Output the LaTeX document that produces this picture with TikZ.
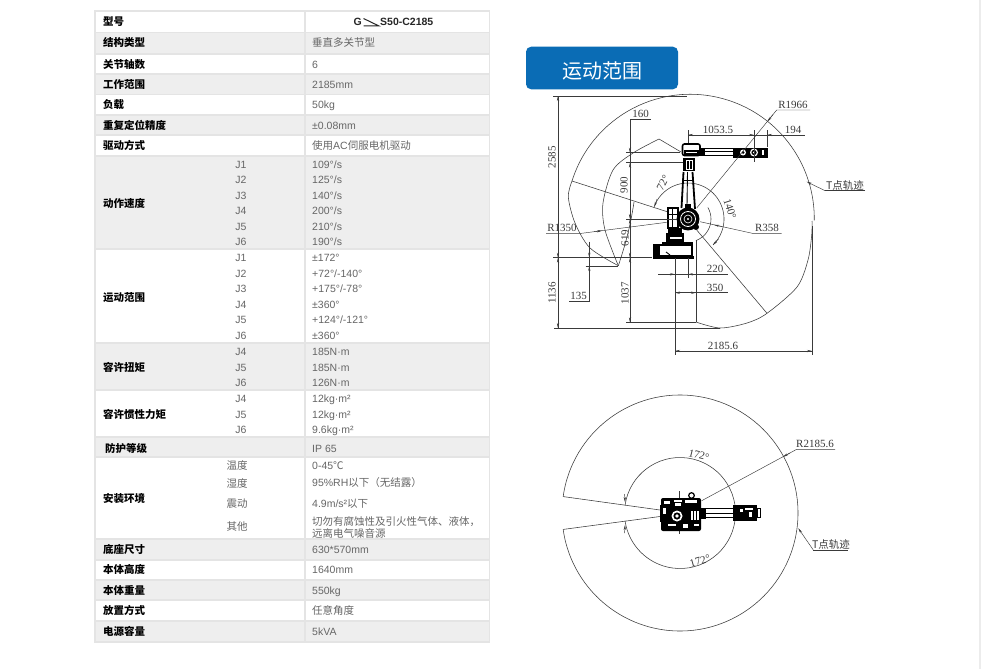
\documentclass[tikz,border=0pt]{standalone}
\usepackage{fontspec}
\setmainfont{Liberation Sans}
\newfontfamily\cjk{Noto Sans CJK SC}
\newfontfamily\serifdim{Liberation Serif}
\usetikzlibrary{arrows.meta}
\definecolor{rowgrey}{HTML}{EEEEEE}
\definecolor{rulegrey}{HTML}{E4E4E4}
\definecolor{cellink}{HTML}{666666}
\definecolor{capblue}{HTML}{0A6CB5}
\definecolor{drawink}{HTML}{3A3A3A}
\newcommand{\cn}[1]{{\cjk #1}}
\tikzset{
    tbhead/.style={anchor=west, inner sep=0pt, text height=8pt, text depth=0pt, font=\cjk\bfseries\fontsize{10.5}{12}\selectfont, text=black},
    tbcell/.style={anchor=west, inner sep=0pt, text height=8pt, text depth=0pt, font=\fontsize{10.5}{12}\selectfont, text=cellink},
    tbjoint/.style={inner sep=0pt, text height=8pt, text depth=0pt, font=\fontsize{10.5}{12}\selectfont, text=cellink},
    dimtext/.style={inner sep=0pt, font=\serifdim\fontsize{11}{12}\selectfont, text=drawink},
    dimline/.style={draw=drawink, line width=0.45pt},
    dimarrow/.style={draw=drawink, line width=0.45pt, -{Stealth[length=5pt,width=2.2pt]}},
    trace/.style={draw=drawink, line width=0.55pt},
    robot/.style={draw=black, line width=0.9pt}
}
\begin{document}
\begin{tikzpicture}[x=1pt,y=-1pt]
        \useasboundingbox (0,0) rectangle (981,669);
        \fill[white] (0,0) rectangle (981,669);
        \fill[rulegrey!70] (979,0) rectangle (981,669);
        % table
        \fill[rulegrey] (94,10) rectangle (490,642.5);
        \foreach \ya/\yb/\rowc in {12/32/white,33.5/53/rowgrey,55/73/white,75/93.5/rowgrey,95/114/white,116/134/rowgrey,136/155/white,156.5/248/rowgrey,250/342/white,344/389/rowgrey,391/436/white,438/456/rowgrey,458/538/white,540/559/rowgrey,560.5/579/white,581/599/rowgrey,601/620/white,622/641/rowgrey}{
                \fill[\rowc] (95.5,\ya) rectangle (304,\yb);
                \fill[\rowc] (306,\ya) rectangle (488.5,\yb);
        }
        \foreach \yy/\txt [count=\i] in {22/型号,43/结构类型,64/关节轴数,84.5/工作范围,104.5/负载,125/重复定位精度,145.5/驱动方式,203/动作速度,297/运动范围,367/容许扭矩,414/容许惯性力矩,498/安装环境,549.5/底座尺寸,569.5/本体高度,590.5/本体重量,610.5/放置方式,631.5/电源容量}{
                \node[tbhead] (head\i) at (103,\yy) {\txt};
        }
        \node[tbhead] (headip) at (105,448) {防护等级};
        \node[anchor=east, inner sep=0pt, font=\bfseries\fontsize{10.5}{12}\selectfont, text=black!85] (modelg) at (362,22) {G};
        \node[anchor=west, inner sep=0pt, font=\bfseries\fontsize{10.5}{12}\selectfont, text=black!85] (modelno) at (380,22) {S50-C2185};
        \draw[line width=1pt, black!85] (363.5,18.5) -- (379,26) -- (363.5,26);
        \foreach \yy/\txt [count=\i] in {43/\cn{垂直多关节型},64/6,84.5/2185mm,104.5/50kg,125.5/±0.08mm,145.5/\cn{使用}AC\cn{伺服电机驱动},164/{109°/s},179/{125°/s},195/{140°/s},210/{200°/s},226/{210°/s},241.5/{190°/s},257.7/±172°,273.5/{+72°/-140°},288.7/{+175°/-78°},304/±360°,319.7/{+124°/-121°},335.3/±360°,351.7/185N·m,367/185N·m,382.7/126N·m,398.7/12kg·m²,414.7/12kg·m²,429.5/9.6kg·m²,448/IP 65,465.7/0-45\cn{℃},482.7/95\%RH\cn{以下（无结露）},503.3/{4.9m/s²\cn{以下}},521/\cn{切勿有腐蚀性及引火性气体、液体，},533/\cn{远离电气噪音源},549.5/630*570mm,569.5/1640mm,590.5/550kg,610.5/\cn{任意角度},631.5/5kVA}{
                \node[tbcell] (val\i) at (312,\yy) {\txt};
        }
        \foreach \yy/\txt [count=\i] in {164/J1,179/J2,195/J3,210/J4,226/J5,241.5/J6,257.7/J1,273.5/J2,288.7/J3,304/J4,319.7/J5,335.3/J6,351.7/J4,367/J5,382.7/J6,398.7/J4,414.7/J5,429.5/J6}{
                \node[tbjoint] (joint\i) at (241,\yy) {\txt};
        }
        \foreach \yy/\txt [count=\i] in {465.7/温度,483/湿度,503.5/震动,526/其他}{
                \node[tbjoint, font=\cjk\fontsize{10.5}{12}\selectfont] (env\i) at (237,\yy) {\txt};
        }
        % caption button
        \node[fill=capblue, rounded corners=5pt, minimum width=152pt, minimum height=42.5pt, inner sep=0pt, text=white, font=\cjk\fontsize{20}{22}\selectfont] (caption) at (602,68) {\raisebox{-10pt}[0pt][0pt]{运动范围}};
        % side view, working range
        \coordinate (jtwo) at (688,219);
        \draw[trace] (572,181) arc[start angle=197.5, end angle=361, radius=124];
        \draw[trace] plot[smooth] coordinates {(812,221) (811.7,235) (808,260) (797,287) (767,313.3) (747,323) (720,328) (696,322)};
        \draw[trace] plot[smooth] coordinates {(572,181) (568.3,197) (575,223) (590,248) (618.3,265.7)};
        \draw[trace] plot[smooth] coordinates {(618.3,265.7) (605,230) (603,203) (613,170) (633,153) (659,139)};
        \draw[trace] (659,139) -- (681,152);
        \draw[trace] (618.3,265.7) .. controls (627,240) and (631,222) .. (634,202);
        \draw[trace] (572,181) -- (668,212);
        \draw[trace] (696.7,230) -- (767,313.3);
        \draw[trace] (696,240) -- (696,322);
        \draw[trace] (jtwo) ++(-30:23) arc[start angle=-30, end angle=70, radius=23];
        \draw[trace] (jtwo) ++(200:36) arc[start angle=200, end angle=406, radius=36];
        \draw[dimarrow] (657,199) -- (654.4,206.7);
        \draw[dimarrow] (718.5,239) -- (713,245);
        % side view, robot
        \begin{scope}[robot]
                \fill (652.5,255.5) rectangle (693.5,258.5);
                \draw[line width=1.2pt] (654,245) rectangle (692,255.5);
                \fill (653,244) rectangle (660,256);
                \draw (666,252) -- (670,255);
                \fill (662,241.5) rectangle (693,244.5);
                \fill (666,233) rectangle (684,241.5);
                \draw[fill=white] (669,236) rectangle (682,239);
                \fill (668,228) rectangle (682,233);
                \draw[fill=white, line width=1.1pt] (668,208) rectangle (678,228);
                \draw (672,208) -- (672,228);
                \draw (668,214) -- (678,214);
                \draw[line width=1.8pt] (681.5,208) -- (683.5,172);
                \draw[line width=1.8pt] (695,209) -- (692.5,172);
                \draw (687.5,172) -- (687,205);
                \draw (684,180) -- (692,180);
                \fill (685,204) rectangle (691,209);
                \draw[fill=black, line width=1.3pt] (jtwo) circle (10.8);
                \draw[white, line width=0.8pt] (jtwo) circle (7.5);
                \draw[white, line width=0.6pt] (jtwo) circle (4);
                \fill[white] (jtwo) circle (1.2);
                \fill (696,227) circle (3);
                \fill (683,158) rectangle (695,171);
                \draw[white, line width=0.7pt] (686,160) rectangle (692,169);
                \draw[white, line width=0.6pt] (689,160) -- (689,169);
                \draw[line width=1.6pt, fill=white, rounded corners=2pt] (682.5,144) rectangle (700,155.5);
                \fill (684,150) rectangle (700,155.5);
                \draw[white, line width=0.5pt] (686,152.5) -- (697,152.5);
                \draw (700,148.5) -- (733,148.5);
                \draw (700,155) -- (733,155);
                \draw[line width=0.6pt] (704,151.5) -- (733,151.5);
                \fill (700,147.5) rectangle (705,156);
                \fill (733,147.5) rectangle (768,157.5);
                \fill[white] (743,152.5) circle (3);
                \fill (743,152.5) circle (1.5);
                \fill[white] (754,152.5) circle (4);
                \fill (754,152.5) circle (2.6);
                \fill[white] (754,152.5) circle (1.1);
                \fill[white] (762,150) rectangle (764,155);
        \end{scope}
        % side view, dimensions
        \draw[dimline] (553,96) -- (687,96);
        \draw[dimline] (553,257.7) -- (652,257.7);
        \draw[dimline] (554,328) -- (720,328);
        \draw[dimline] (558,96) -- (558,328);
        \draw[dimarrow] (558,104) -- (558,96);
        \draw[dimarrow] (558,249) -- (558,257.7);
        \draw[dimarrow] (558,266) -- (558,257.7);
        \draw[dimarrow] (558,320) -- (558,328);
        \node[dimtext, rotate=90] (dimtotal) at (552,157) {2585};
        \node[dimtext, rotate=90] (dimlow) at (552,293) {1136};
        \draw[dimline] (630,119) -- (650.7,119);
        \draw[dimline] (630,119) -- (630,322.3);
        \node[dimtext, anchor=south, inner sep=1pt] (dimshort) at (640.5,119) {160};
        \draw[dimline] (626,152.7) -- (680,152.7);
        \draw[dimline] (626,162.7) -- (683,162.7);
        \draw[dimline] (626,219) -- (677,219);
        \draw[dimline] (626,322.3) -- (696,322.3);
        \draw[dimarrow] (630,144) -- (630,152.7);
        \draw[dimarrow] (630,171) -- (630,162.7);
        \draw[dimarrow] (630,211) -- (630,219);
        \draw[dimarrow] (630,227) -- (630,219);
        \draw[dimarrow] (630,250) -- (630,257.7);
        \draw[dimarrow] (630,266) -- (630,257.7);
        \draw[dimarrow] (630,314) -- (630,322.3);
        \node[dimtext, rotate=90] (dimarm) at (624,185) {900};
        \node[dimtext, rotate=90] (dimbase) at (625,238) {619};
        \node[dimtext, rotate=90] (dimfloor) at (625,293) {1037};
        \coordinate (rsmall) at (581.7,233.3);
        \draw[dimline] (546,233.3) -- (rsmall) -- (666.7,222.3);
        \draw[dimarrow] (594,231.7) -- (602,230.7);
        \node[dimtext, anchor=south, inner sep=1pt] (rinner) at (562,233.3) {R1350};
        \coordinate (rmid) at (752.3,233.3);
        \draw[dimline] (781.7,233.3) -- (rmid) -- (700,221.7);
        \draw[dimarrow] (722,226.6) -- (714,224.8);
        \node[dimtext, anchor=south, inner sep=1pt] (rjoint) at (767,233.3) {R358};
        \coordinate (router) at (776.7,110);
        \draw[dimline] (810,110) -- (router) -- (696.7,208);
        \draw[dimarrow] (773,114.5) -- (767.5,121.5);
        \node[dimtext, anchor=south, inner sep=1pt] (rtop) at (793,110) {R1966};
        \draw[dimline] (688,130) -- (688,143);
        \draw[dimline] (754,130) -- (754,162);
        \draw[dimline] (767,130) -- (767,147);
        \draw[dimline] (688,135) -- (805,135);
        \draw[dimarrow] (696,135) -- (688,135);
        \draw[dimarrow] (746,135) -- (754,135);
        \draw[dimarrow] (775,135) -- (767,135);
        \node[dimtext, anchor=south, inner sep=1pt] (dimreach) at (718,135) {1053.5};
        \node[dimtext, anchor=south, inner sep=1pt] (dimwrist) at (793,135) {194};
        \draw[dimline] (589.3,241.7) -- (589.3,301) -- (569.3,301);
        \draw[dimline] (585.7,266) -- (618.3,266);
        \draw[dimarrow] (589.3,250) -- (589.3,257.7);
        \draw[dimarrow] (589.3,274) -- (589.3,266);
        \node[dimtext, anchor=south, inner sep=1pt] (dimdrop) at (578.5,301) {135};
        \draw[dimline] (675,258) -- (675,355);
        \draw[dimline] (688,258) -- (688,278);
        \draw[dimline] (658.3,274.3) -- (728,274.3);
        \draw[dimarrow] (667,274.3) -- (675,274.3);
        \draw[dimarrow] (696,274.3) -- (688,274.3);
        \node[dimtext, anchor=south, inner sep=1pt] (dimtwo) at (715,274.3) {220};
        \draw[dimline] (675,292.7) -- (728,292.7);
        \draw[dimarrow] (683,292.7) -- (675,292.7);
        \draw[dimarrow] (688,292.7) -- (696,292.7);
        \node[dimtext, anchor=south, inner sep=1pt] (dimthree) at (715,292.7) {350};
        \draw[dimline] (812,226) -- (812,355);
        \draw[dimline] (675,351) -- (812,351);
        \draw[dimarrow] (683,351) -- (675,351);
        \draw[dimarrow] (804,351) -- (812,351);
        \node[dimtext, anchor=south, inner sep=1pt] (dimrange) at (723,351) {2185.6};
        \node[dimtext, rotate=62] (angup) at (663,183) {72°};
        \node[dimtext, rotate=-72] (angdown) at (730,209) {140°};
        \node[dimtext, font=\cjk\fontsize{10.5}{12}\selectfont, anchor=south, inner sep=0.5pt] (tracetop) at (845,190.7) {T点轨迹};
        \coordinate (tracefoot) at (825,190.7);
        \draw[dimline] (865,190.7) -- (tracefoot);
        \draw[dimarrow] (tracefoot) -- (806.7,181.7);
        % top view, working range
        \coordinate (jone) at (680,513);
        \draw[trace] (jone) ++(188:118) arc[start angle=188, end angle=532, radius=118];
        \draw[trace] (jone) ++(188:55.5) arc[start angle=188, end angle=532, radius=55.5];
        \draw[trace] (jone) ++(188:118) -- (660,510);
        \draw[trace] (jone) ++(172:118) -- (660,516.5);
        \draw[dimarrow] (624.6,494) -- (625,502);
        \draw[dimarrow] (624.6,533) -- (625,525);
        \node[dimtext, rotate=-14] (angtop) at (699,455) {172°};
        \node[dimtext, rotate=16] (angbot) at (700,561) {172°};
        % top view, robot
        \begin{scope}[robot]
                \draw[dimline] (679,491) -- (679,534);
                \fill[rounded corners=2pt] (661,498) rectangle (701,531);
                \fill (660,505) rectangle (672,522);
                \foreach \px/\py/\pw/\ph in {664/501/6/3,674/500/8/2,685/500/12/3,663/508/3/6,668/524/8/2,683/524/5/4,675/503/6/3,694/524/5/2}{
                        \fill[white] (\px,\py) rectangle ++(\pw,\ph);
                }
                \fill[white] (677,516) circle (5.5);
                \fill (677,516) circle (3.6);
                \fill[white] (677,516) circle (1.8);
                \fill[white] (691,511) rectangle (699,520);
                \draw[line width=0.7pt] (693.5,511) -- (693.5,520);
                \draw[line width=0.7pt] (696.5,511) -- (696.5,520);
                \draw[fill=white, line width=1.2pt] (691.5,495.5) circle (2.8);
                \draw (701,508.5) -- (733,508.5);
                \draw (701,517.5) -- (733,517.5);
                \draw[line width=0.6pt] (705,513) -- (733,513);
                \fill (701,507.5) rectangle (706,518.5);
                \fill (733,505) rectangle (757,521);
                \fill[white] (740,509) rectangle (743,512);
                \fill[white] (745,508) rectangle (753,510);
                \fill[white] (749,512) rectangle (752,517);
                \draw (757,508) rectangle (760,517);
        \end{scope}
        % top view, dimensions
        \coordinate (rplan) at (796.7,449.3);
        \draw[dimline] (835,449.3) -- (rplan) -- (701.7,500.7);
        \draw[dimarrow] (790,453) -- (783,456.8);
        \node[dimtext, anchor=south, inner sep=1pt] (rplantxt) at (815,449.3) {R2185.6};
        \node[dimtext, font=\cjk\fontsize{10.5}{12}\selectfont, anchor=south, inner sep=0.5pt] (traceplan) at (831,550) {T点轨迹};
        \coordinate (traceleg) at (813.3,550);
        \draw[dimline] (847.7,550) -- (traceleg);
        \draw[dimarrow] (traceleg) -- (798.3,528.3);
\end{tikzpicture}
\end{document}
